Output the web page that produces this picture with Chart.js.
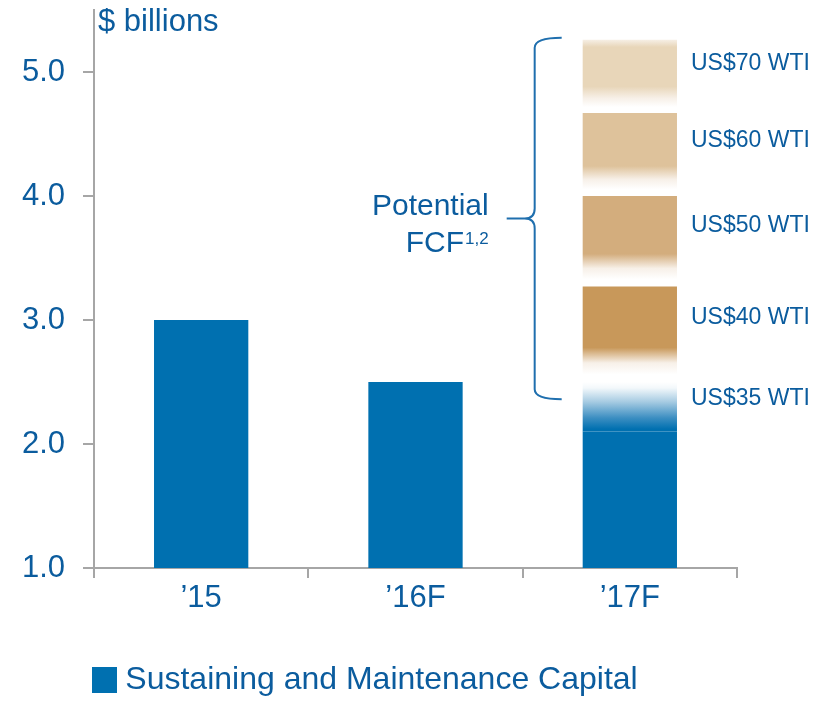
<!DOCTYPE html>
<html>
<head>
<meta charset="utf-8">
<style>
  html, body { margin: 0; padding: 0; background: #ffffff; }
  #wrap { width: 834px; height: 701px; }
</style>
<script src="https://cdn.jsdelivr.net/npm/chart.js@4/dist/chart.umd.min.js"></script>
</head>
<body>
<div id="wrap"><canvas id="chart" width="834" height="701"></canvas></div>
<script>
// ---- data -------------------------------------------------------------
const categories = ['\u201915', '\u201916F', '\u201917F'];
const sustainingCapital = [3.0, 2.5, 2.1];          // $ billions
const wtiLabels = ['US$35 WTI', 'US$40 WTI', 'US$50 WTI', 'US$60 WTI', 'US$70 WTI'];
// level the '17F bar reaches once potential FCF at each WTI price is added
const potentialFcfTop = [2.5, 3.27, 4.0, 4.67, 5.26];
const yTicks = [1, 2, 3, 4, 5];
const fcfCategory = 2;   // potential FCF sits on top of the '17F bar

// ---- styling ----------------------------------------------------------
const FONT = "'Liberation Sans', Arial, Helvetica, sans-serif";
const TEXT = '#0B5C9E';
const BLUE = '#0070B0';
const AXIS = '#A6A6A6';
const bandColors = ['#0070B0', '#C8985A', '#D3AD7D', '#DEC29B', '#E8D6B9'];

// square swatch used as the legend marker
const swatch = document.createElement('canvas');
swatch.width = 25;
swatch.height = 26;
(function () {
  const s = swatch.getContext('2d');
  s.fillStyle = BLUE;
  s.fillRect(0, 0, 25, 26);
})();

function bandRange(i) {
  const lo = i === 0 ? sustainingCapital[fcfCategory] : potentialFcfTop[i - 1];
  return [lo, potentialFcfTop[i]];
}

// each price band is solid at its top and fades out to white underneath;
// the lowest band fades from white down into the capital bar's blue
function bandFill(i) {
  return (ctx) => {
    const chart = ctx.chart;
    const y = chart.scales && chart.scales.y;
    if (!chart.chartArea || !y) return bandColors[i];
    const [lo, hi] = bandRange(i);
    const yTop = y.getPixelForValue(hi);
    const yBot = y.getPixelForValue(lo);
    const g = chart.ctx.createLinearGradient(0, yTop, 0, yBot);
    if (i === 0) {
      g.addColorStop(0, '#ffffff');
      g.addColorStop(0.12, '#F3F8FB');
      g.addColorStop(0.4, '#A6CBE2');
      g.addColorStop(0.72, '#3D8FC2');
      g.addColorStop(0.95, BLUE);
      g.addColorStop(1, BLUE);
    } else {
      const c = bandColors[i];
      if (i === bandColors.length - 1) {
        g.addColorStop(0, '#F6EFE5');
        g.addColorStop(0.1, c);
      } else {
        g.addColorStop(0, c);
      }
      g.addColorStop(0.64, c);
      g.addColorStop(0.8, '#F7F0E8');
      g.addColorStop(0.92, '#ffffff');
      g.addColorStop(1, '#ffffff');
    }
    return g;
  };
}

const datasets = [{
  label: 'Sustaining and Maintenance Capital',
  data: sustainingCapital,
  backgroundColor: BLUE,
  borderWidth: 0,
  grouped: false,
  categoryPercentage: 1,
  barPercentage: 0.44
}];
wtiLabels.forEach((lbl, i) => {
  const data = categories.map((_, k) => (k === fcfCategory ? bandRange(i) : null));
  datasets.push({
    label: lbl,
    data: data,
    backgroundColor: bandFill(i),
    borderWidth: 0,
    borderSkipped: false,
    grouped: false,
    categoryPercentage: 1,
    barPercentage: 0.44
  });
});

// ---- annotations: unit title, WTI labels, brace and "Potential FCF" -----
const annotations = {
  id: 'annotations',
  afterDraw(chart) {
    const ctx = chart.ctx;
    const y = chart.scales.y;
    const area = chart.chartArea;
    ctx.save();
    ctx.fillStyle = TEXT;

    // unit title
    ctx.font = '31px ' + FONT;
    ctx.textAlign = 'left';
    ctx.textBaseline = 'alphabetic';
    ctx.fillText('$ billions', area.left + 4, 31);

    // WTI price labels beside their bands
    const bar = chart.getDatasetMeta(1).data[fcfCategory];
    const barLeft = bar.x - bar.width / 2;
    const barRight = bar.x + bar.width / 2;
    ctx.font = '23px ' + FONT;
    ctx.textBaseline = 'middle';
    wtiLabels.forEach((lbl, i) => {
      const [lo, hi] = bandRange(i);
      const yt = y.getPixelForValue(hi);
      const yb = y.getPixelForValue(lo);
      ctx.fillText(lbl, barRight + 14, yt + 0.33 * (yb - yt));
    });

    // curly brace spanning the potential FCF bands
    const top = y.getPixelForValue(potentialFcfTop[potentialFcfTop.length - 1]) - 2;
    const lowTop = y.getPixelForValue(potentialFcfTop[0]);
    const lowBot = y.getPixelForValue(sustainingCapital[fcfCategory]);
    const bottom = lowTop + 0.35 * (lowBot - lowTop);
    const mid = (top + bottom) / 2;
    const armX = barLeft - 21;
    const vx = barLeft - 48;
    const tipX = barLeft - 76;
    const r = 10;
    ctx.strokeStyle = '#1F6FAE';
    ctx.lineWidth = 2;
    ctx.beginPath();
    ctx.moveTo(armX, top);
    ctx.quadraticCurveTo(vx, top, vx, top + r);
    ctx.lineTo(vx, mid - r);
    ctx.quadraticCurveTo(vx, mid, vx - r, mid);
    ctx.lineTo(tipX, mid);
    ctx.moveTo(vx - r, mid);
    ctx.quadraticCurveTo(vx, mid, vx, mid + r);
    ctx.lineTo(vx, bottom - r);
    ctx.quadraticCurveTo(vx, bottom, armX, bottom);
    ctx.stroke();

    // "Potential FCF" with footnote marks
    const textRight = tipX - 18;
    ctx.textAlign = 'right';
    ctx.textBaseline = 'alphabetic';
    ctx.font = '30px ' + FONT;
    ctx.fillText('Potential', textRight, mid - 4);
    ctx.font = '17px ' + FONT;
    const sup = '1,2';
    const supW = ctx.measureText(sup).width;
    ctx.fillText(sup, textRight, mid + 25);
    ctx.font = '30px ' + FONT;
    ctx.fillText('FCF', textRight - supW - 1, mid + 33);
    ctx.restore();
  }
};

new Chart(document.getElementById('chart'), {
  type: 'bar',
  data: { labels: categories, datasets: datasets },
  plugins: [annotations],
  options: {
    responsive: false,
    animation: false,
    devicePixelRatio: 1,
    layout: { padding: { left: 0, right: 97, top: 10, bottom: -5 } },
    plugins: {
      title: { display: false },
      tooltip: { enabled: false },
      legend: {
        display: true,
        position: 'bottom',
        align: 'center',
        labels: {
          filter: (item) => item.datasetIndex === 0,
          usePointStyle: true,
          pointStyle: swatch,
          pointStyleWidth: 10,
          boxWidth: 25,
          boxHeight: 26,
          padding: 4,
          color: TEXT,
          font: { family: FONT, size: 32, lineHeight: 1 }
        }
      }
    },
    scales: {
      x: {
        offset: true,
        grid: {
          offset: true,
          drawOnChartArea: false,
          drawTicks: true,
          tickLength: 10,
          color: AXIS,
          lineWidth: 2
        },
        border: { display: true, color: AXIS, width: 2 },
        ticks: { color: TEXT, font: { family: FONT, size: 31 }, padding: 2 },
        afterFit(scale) {
          scale.height = 92;
          scale.paddingLeft = 0;
          scale.paddingRight = 0;
        }
      },
      y: {
        min: 1,
        max: 5.5,
        afterBuildTicks(scale) {
          scale.ticks = yTicks.map((v) => ({ value: v }));
        },
        grid: {
          drawOnChartArea: false,
          drawTicks: true,
          tickLength: 11,
          color: AXIS,
          lineWidth: 2
        },
        border: { display: true, color: AXIS, width: 2 },
        ticks: {
          color: TEXT,
          font: { family: FONT, size: 31 },
          padding: 18,
          callback: (v) => Number(v).toFixed(1)
        },
        afterFit(scale) {
          scale.width = 94;
          scale.paddingTop = 0;
          scale.paddingBottom = 0;
        }
      }
    }
  }
});
</script>
</body>
</html>
